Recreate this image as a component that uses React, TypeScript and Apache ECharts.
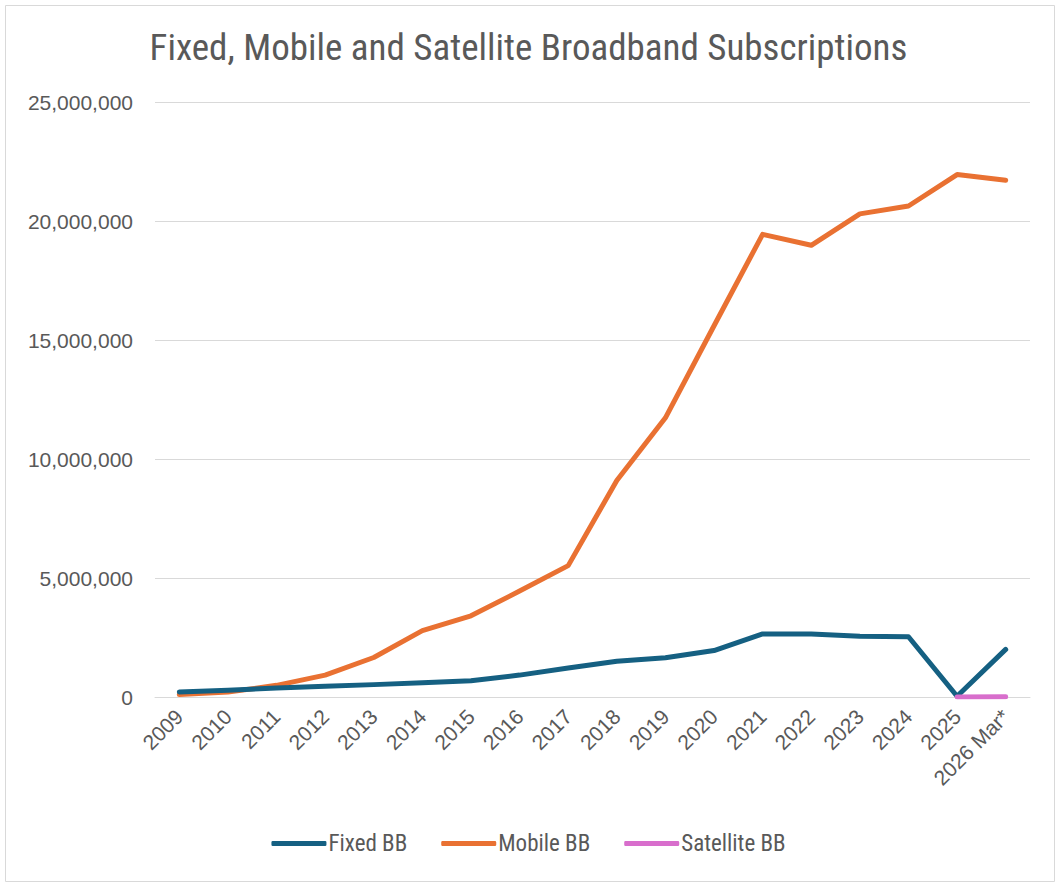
import React, { useEffect, useRef } from "react";
import * as echarts from "echarts";

const categories = ["2009","2010","2011","2012","2013","2014","2015","2016","2017","2018","2019","2020","2021","2022","2023","2024","2025","2026 Mar*"];
const fixedBB = [210000,280000,380000,450000,520000,600000,680000,920000,1220000,1500000,1650000,1950000,2650000,2650000,2550000,2530000,30000,2000000];
const mobileBB = [100000,210000,490000,920000,1660000,2790000,3410000,4450000,5520000,9100000,11730000,15600000,19440000,18980000,20300000,20630000,21950000,21710000];
const satelliteBB = [null,null,null,null,null,null,null,null,null,null,null,null,null,null,null,null,5000,10000];
const yTicks = [0, 5000000, 10000000, 15000000, 20000000, 25000000];

const NARROW = "'Liberation Sans Narrow', 'Arial Narrow', 'Roboto Condensed', 'Liberation Sans', sans-serif";
const SANS = "'Liberation Sans', Arial, sans-serif";
const TXT = "#595959";

export default function App() {
  const ref = useRef<HTMLDivElement>(null);
  useEffect(() => {
    document.body.style.margin = "0";
    const chart = echarts.init(ref.current!, null, { renderer: "svg" });
    const lineStyle = (c: string) => ({ width: 5, color: c, cap: "round", join: "round" });
    chart.setOption({
      animation: false,
      backgroundColor: "#ffffff",
      textStyle: { fontFamily: SANS },
      title: {
        text: "Fixed, Mobile and Satellite Broadband Subscriptions",
        left: "center",
        top: 24,
        textStyle: { fontFamily: NARROW, fontSize: 37, fontWeight: "normal", color: TXT },
      },
      graphic: [
        { type: "rect", left: 3, top: 3, shape: { width: 1049, height: 876 }, style: { fill: "none", stroke: "#D9D9D9", lineWidth: 1 }, silent: true },
      ],
      grid: { left: 155, right: 27, top: 102, bottom: 186, containLabel: false },
      legend: {
        bottom: 23,
        left: "center",
        itemWidth: 55,
        itemHeight: 5,
        itemGap: 34,
        icon: "roundRect",
        textStyle: { fontFamily: NARROW, fontSize: 23, color: TXT, padding: [0, 0, 0, -3] },
        data: ["Fixed BB", "Mobile BB", "Satellite BB"],
      },
      xAxis: {
        type: "category",
        data: categories,
        boundaryGap: true,
        axisLine: { show: true, lineStyle: { color: "#D9D9D9", width: 1 } },
        axisTick: { show: false },
        axisLabel: { rotate: 45, fontFamily: SANS, fontSize: 21, color: TXT, margin: 16, interval: 0 },
      },
      yAxis: {
        type: "value",
        min: 0,
        max: 25000000,
        interval: 5000000,
        axisLine: { show: false },
        axisTick: { show: false },
        splitLine: { lineStyle: { color: "#D9D9D9", width: 1 } },
        axisLabel: {
          fontFamily: SANS, fontSize: 21, color: TXT, margin: 22,
          formatter: (v: number) => (yTicks.includes(v) ? v.toLocaleString("en-US") : ""),
        },
      },
      series: [
        { name: "Fixed BB", type: "line", data: fixedBB, symbol: "none", lineStyle: lineStyle("#156082"), itemStyle: { color: "#156082" }, z: 3 },
        { name: "Mobile BB", type: "line", data: mobileBB, symbol: "none", lineStyle: lineStyle("#E97132"), itemStyle: { color: "#E97132" }, z: 2 },
        { name: "Satellite BB", type: "line", data: satelliteBB, symbol: "none", lineStyle: lineStyle("#D86ECC"), itemStyle: { color: "#D86ECC" }, z: 4 },
      ],
    });
    return () => chart.dispose();
  }, []);
  return <div ref={ref} style={{ width: 1057, height: 883 }} />;
}
